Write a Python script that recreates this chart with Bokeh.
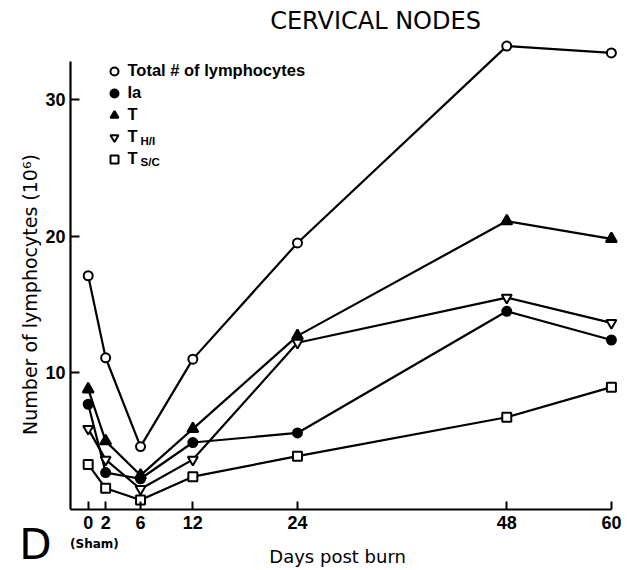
from math import pi
from bokeh.plotting import figure
from bokeh.models import Label, Legend, LegendItem, FixedTicker, Range1d
from bokeh.embed import file_html
from bokeh.resources import INLINE

# ---- data ----
days = [0, 2, 6, 12, 24, 48, 60]
total = [17.1, 11.1, 4.6, 11.0, 19.5, 33.9, 33.4]
ia = [7.7, 2.7, 2.25, 4.9, 5.6, 14.5, 12.4]
t_cells = [8.8, 5.0, 2.5, 5.9, 12.7, 21.1, 19.8]
th_i = [5.9, 3.65, 1.5, 3.65, 12.2, 15.5, 13.65]
ts_c = [3.3, 1.55, 0.7, 2.4, 3.9, 6.75, 8.95]
y_ticks = [10, 20, 30]
x_ticks = [0, 2, 6, 12, 24, 48, 60]

SANS = "DejaVu Sans"
NUM = "Liberation Sans"

p = figure(width=644, height=570,
           x_range=Range1d(-10.057, 63.796), y_range=Range1d(-4.462, 37.235),
           output_backend="svg", toolbar_location=None,
           min_border_left=0, min_border_right=0,
           min_border_top=0, min_border_bottom=0)
p.grid.visible = False
p.outline_line_color = None
p.background_fill_color = "white"

for ax in (p.xaxis[0], p.yaxis[0]):
    ax.axis_line_width = 2.2
    ax.axis_line_color = "black"
    ax.major_tick_line_width = 2
    ax.major_tick_line_color = "black"
    ax.major_tick_out = 0
    ax.minor_tick_line_color = None
    ax.major_label_text_font = NUM
    ax.major_label_text_font_size = "18px"
    ax.major_label_text_font_style = "bold"
    ax.major_label_text_color = "black"

p.xaxis.fixed_location = 0
p.xaxis.ticker = FixedTicker(ticks=x_ticks)
p.xaxis.bounds = (-2.03, 60)
p.xaxis.major_tick_in = 8
p.xaxis.major_label_standoff = 6

p.yaxis.fixed_location = -2.03
p.yaxis.ticker = FixedTicker(ticks=y_ticks)
p.yaxis.bounds = (0, 32.75)
p.yaxis.major_tick_in = 9
p.yaxis.major_label_standoff = 5

series = [
    ("Total # of lymphocytes", total, "circle", "white", 9),
    ("Ia", ia, "circle", "black", 9),
    ("T", t_cells, "triangle", "black", 11),
    ("T", th_i, "inverted_triangle", "white", 10),
    ("T", ts_c, "square", "white", 9),
]

items = []
for name, vals, marker, fill, size in series:
    p.line(days, vals, line_color="black", line_width=2.2)
for name, vals, marker, fill, size in series:
    r = p.scatter(days, vals, marker=marker, size=size, fill_color=fill,
                  line_color="black", line_width=2)
    items.append(LegendItem(label=name, renderers=[r]))

legend = Legend(items=items, location=(103.5, 401.3),
                glyph_width=20, glyph_height=20, label_height=20,
                spacing=2, padding=0, margin=0, label_standoff=4,
                border_line_color=None, background_fill_alpha=0,
                label_text_font=NUM, label_text_font_size="16.5px",
                label_text_font_style="bold", label_text_color="black")
p.add_layout(legend)

def lab(x, y, text, size, style="normal", angle=0, align="center", font=SANS):
    p.add_layout(Label(x=x, y=y, text=text, text_font=font,
                       text_font_size=size, text_font_style=style,
                       text_align=align, text_baseline="middle",
                       angle=angle, text_color="black"))

# subscripts of the legend labels
lab(6.0, 26.96, "H/I", "11.5px", "bold", align="left", font=NUM)
lab(6.0, 25.41, "S/C", "11.5px", "bold", align="left", font=NUM)

lab(32.95, 35.77, "CERVICAL NODES", "24px")
lab(-6.62, 15.73, "Number of lymphocytes (10\u2076)", "19px", angle=pi / 2)
lab(28.6, -3.45, "Days post burn", "18px")
lab(0.72, -2.49, "(Sham)", "12px", "bold")
lab(-6.04, -2.55, "D", "42px")

open("out.html", "w").write(file_html(p, INLINE))
